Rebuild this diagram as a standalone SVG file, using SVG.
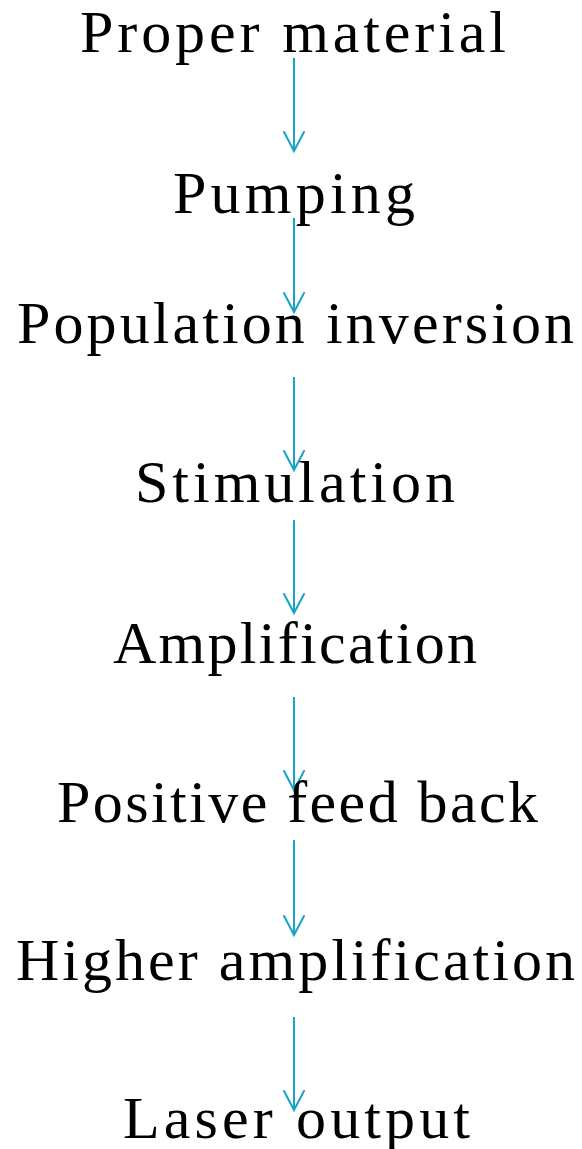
<svg xmlns="http://www.w3.org/2000/svg" width="582" height="1149" viewBox="0 0 582 1149">
<defs>
<style>
.t{font-family:"Liberation Serif","DejaVu Serif",serif;font-size:60px;fill:#000;text-anchor:middle}
.c{stroke:#1aa3c9;stroke-width:2;fill:none}
.h{stroke:#1aa3c9;stroke-width:2;fill:none;stroke-linecap:round;stroke-linejoin:miter}
</style>
<marker id="ah" markerWidth="24" markerHeight="24" refX="12" refY="21" markerUnits="userSpaceOnUse" orient="0" viewBox="0 0 24 24">
<path class="h" d="M2 2 L12 21 L22 2"/>
</marker>
</defs>
<rect width="582" height="1149" fill="#fff"/>
<g id="connectors">
<line class="c" x1="294" y1="58" x2="294" y2="151" marker-end="url(#ah)"/>
<line class="c" x1="294" y1="218" x2="294" y2="312" marker-end="url(#ah)"/>
<line class="c" x1="294" y1="377" x2="294" y2="470" marker-end="url(#ah)"/>
<line class="c" x1="294" y1="520" x2="294" y2="613" marker-end="url(#ah)"/>
<line class="c" x1="294" y1="697" x2="294" y2="790" marker-end="url(#ah)"/>
<line class="c" x1="294" y1="840" x2="294" y2="935" marker-end="url(#ah)"/>
<line class="c" x1="294" y1="1017" x2="294" y2="1110" marker-end="url(#ah)"/>
</g>
<g id="n1"><text class="t" x="293" y="52" textLength="426" lengthAdjust="spacing">Proper material</text></g>
<g id="n2"><text class="t" x="294" y="213" textLength="242" lengthAdjust="spacing">Pumping</text></g>
<g id="n3"><text class="t" x="295.5" y="343" textLength="557" lengthAdjust="spacing">Population inversion</text></g>
<g id="n4"><text class="t" x="295" y="502" textLength="320" lengthAdjust="spacing">Stimulation</text></g>
<g id="n5"><text class="t" x="295" y="663" textLength="364" lengthAdjust="spacing">Amplification</text></g>
<g id="n6"><text class="t" x="297.5" y="822" textLength="481" lengthAdjust="spacing">Positive feed back</text></g>
<g id="n7"><text class="t" x="295.5" y="980" textLength="559" lengthAdjust="spacing">Higher amplification</text></g>
<g id="n8"><text class="t" x="296.5" y="1138" textLength="347" lengthAdjust="spacing">Laser output</text></g>
</svg>
